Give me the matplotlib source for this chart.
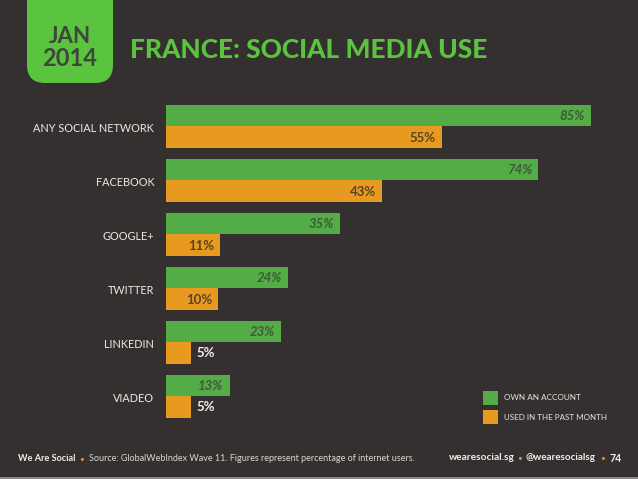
import matplotlib
matplotlib.use("Agg")
import matplotlib.pyplot as plt
from matplotlib.patches import FancyBboxPatch, Rectangle
from matplotlib.transforms import ScaledTranslation

categories = ["ANY SOCIAL NETWORK", "FACEBOOK", "GOOGLE+", "TWITTER", "LINKEDIN", "VIADEO"]
own_account = [85, 74.4, 34.7, 24.4, 23, 12.7]
used_past_month = [55.2, 43.2, 10.8, 10.4, 5, 5]

BG = "#353030"
GREEN = "#53AC46"
ORANGE = "#E89A20"
LIME = "#5AC43F"
DARK = "#3C5A36"
W, H = 638, 479

plt.rcParams["font.family"] = ["Lato", "DejaVu Sans"]
fig = plt.figure(figsize=(W / 100, H / 100), dpi=100, facecolor=BG)

bg = fig.add_axes([0, 0, 1, 1])
bg.set_xlim(0, W)
bg.set_ylim(H, 0)
bg.axis("off")
bg.add_patch(FancyBboxPatch((27, -30), 86, 113, boxstyle="round,pad=0,rounding_size=18",
                            fc=LIME, ec="none"))
bg.add_patch(Rectangle((0, 477), W, 2, fc="#8a8886", ec="none"))
bg.text(70, 36, "JAN", ha="center", va="center", fontsize=16, fontweight="bold", color="#3f463a")
bg.text(70, 58, "2014", ha="center", va="center", fontsize=17, fontweight="bold", color="#3f463a")
bg.text(130, 50, "FRANCE: SOCIAL MEDIA USE", ha="left", va="center", fontsize=18.9,
        fontweight="black", color=LIME)

bg.add_patch(Rectangle((483, 390.5), 14.5, 14.5, fc=GREEN, ec="none"))
bg.add_patch(Rectangle((483, 409.5), 14.5, 14.5, fc=ORANGE, ec="none"))
bg.text(504, 398, "OWN AN ACCOUNT", ha="left", va="center", fontsize=5.9, color="#e6e4e0")
bg.text(504, 417, "USED IN THE PAST MONTH", ha="left", va="center", fontsize=5.8, color="#e6e4e0")

bg.text(18, 458.5, "We Are Social", ha="left", va="center", fontsize=6.6, fontweight="bold", color="#f0eeea")
bg.text(81.5, 458.5, "•", ha="center", va="center", fontsize=6, color=ORANGE)
bg.text(89, 458.5, "Source: GlobalWebIndex Wave 11. Figures represent percentage of internet users.",
        ha="left", va="center", fontsize=6.5, color="#d8d6d2")
bg.text(449, 458, "wearesocial.sg", ha="left", va="center", fontsize=7.3, fontweight="bold", color="#f0eeea")
bg.text(520, 458, "•", ha="center", va="center", fontsize=6, color=ORANGE)
bg.text(526, 458, "@wearesocialsg", ha="left", va="center", fontsize=7.1, fontweight="bold", color="#f0eeea")
bg.text(603, 458, "•", ha="center", va="center", fontsize=6, color=ORANGE)
bg.text(609, 458, "74", ha="left", va="center", fontsize=7.6, fontweight="bold", color="#f0eeea")

# chart axes: 166..616 px = 0..90 %, groups 54 px apart
ax = fig.add_axes([166 / W, 1 - 423 / H, 450 / W, 324 / H])
ax.patch.set_alpha(0)
ax.set_xlim(0, 90)
ax.set_ylim(5.5, -0.5)
for s in ax.spines.values():
    s.set_visible(False)
ax.set_xticks([])
ypos = list(range(len(categories)))
h = 21.5 / 54
ax.barh([y - h / 2 for y in ypos], own_account, height=h, color=GREEN)
ax.barh([y + h / 2 for y in ypos], used_past_month, height=h, color=ORANGE)
ax.set_yticks(ypos, categories)
ax.tick_params(axis="y", length=0, pad=8.5, labelsize=7.8, labelcolor="#ece9e5")
down = ScaledTranslation(0, -1 / 100, fig.dpi_scale_trans)
for lab in ax.get_yticklabels():
    lab.set_transform(lab.get_transform() + down)

for y, v in zip(ypos, own_account):
    ax.text(v - 1.2, y - h / 2 + 0.02, f"{v:.0f}%", ha="right", va="center", fontsize=9.5,
            fontweight="bold", fontstyle="italic", color=DARK)
for y, v in zip(ypos, used_past_month):
    if v >= 10:
        ax.text(v - 1.2, y + h / 2 + 0.02, f"{v:.0f}%", ha="right", va="center", fontsize=9.5,
                fontweight="bold", color="#5a4320")
    else:
        ax.text(v + 1.0, y + h / 2, f"{v:.0f}%", ha="left", va="center", fontsize=9.5,
                fontweight="bold", color="#f2f0ec")

fig.savefig("out.png", dpi=100, facecolor=BG)
